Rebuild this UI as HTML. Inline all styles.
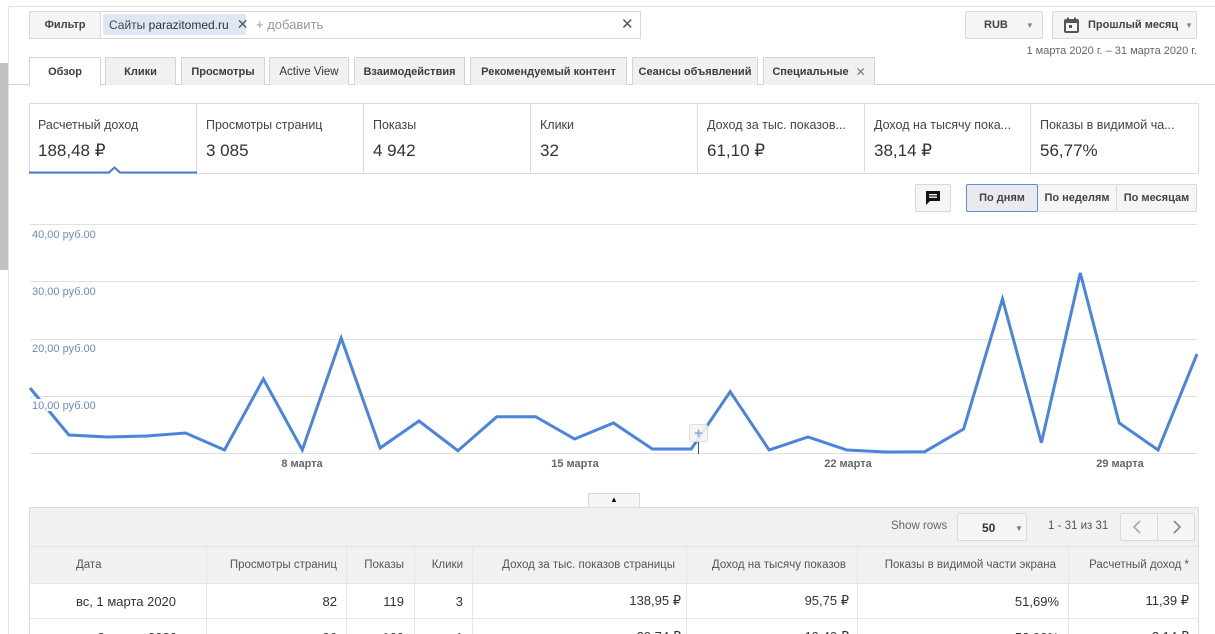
<!DOCTYPE html>
<html><head><meta charset="utf-8">
<style>
*{box-sizing:border-box;margin:0;padding:0}
html,body{width:1215px;height:634px;overflow:hidden;background:#fff;font-family:"Liberation Sans","DejaVu Sans",sans-serif;color:#333}
#wrap{position:relative;width:1215px;height:634px;overflow:hidden}
.a{position:absolute}
.btn{position:absolute;background:#f5f5f5;border:1px solid #d9d9d9;border-radius:2px;font-size:11px;font-weight:bold;color:#444;display:flex;align-items:center;justify-content:center;white-space:nowrap}
.tab{position:absolute;top:57px;height:28px;background:#f1f1f1;border:1px solid #d4d4d4;border-bottom:none;font-size:11px;font-weight:bold;color:#3c3c3c;display:flex;align-items:center;justify-content:center;white-space:nowrap}
.card{position:absolute;top:104px;height:69px;border-right:1px solid #dcdcdc}
.card .l{position:absolute;left:9px;top:14px;font-size:12.5px;color:#444;white-space:nowrap}
.card .v{position:absolute;left:9px;top:37px;font-size:17px;color:#333;white-space:nowrap}
.th{position:absolute;top:547px;height:36px;font-size:11.5px;color:#555;display:flex;align-items:center;white-space:nowrap}
.td{position:absolute;font-size:13px;color:#333;display:flex;align-items:center;white-space:nowrap}
.r{justify-content:flex-end}
.vl{position:absolute;width:1px;background:#e6e6e6}
</style></head><body><div id="wrap">

<!-- frame lines -->
<div class="a" style="left:8px;top:6px;width:1207px;height:1px;background:#e2e2e2"></div>
<div class="a" style="left:8px;top:6px;width:1px;height:628px;background:#e2e2e2"></div>
<div class="a" style="left:0;top:63px;width:8px;height:207px;background:#c1c2c6"></div>

<!-- filter bar -->
<div class="a" style="left:29px;top:11px;width:612px;height:28px;border:1px solid #d9d9d9;background:#fff"></div>
<div class="btn" style="left:29px;top:11px;width:72px;height:28px;">Фильтр</div>
<div class="a" style="left:103px;top:14px;width:143px;height:21px;background:#dfe7f5;border-radius:2px;font-size:12px;color:#444;display:flex;align-items:center;padding-left:6px;white-space:nowrap">Сайты&nbsp;<span style="color:#333">parazitomed.ru</span><span style="margin-left:8px;font-size:14px;color:#555">✕</span></div>
<div class="a" style="left:256px;top:17px;font-size:13px;color:#999">+ добавить</div>
<div class="a" style="left:621px;top:15px;font-size:15px;color:#555">✕</div>

<div class="btn" style="left:965px;top:11px;width:78px;height:28px;justify-content:flex-start;padding-left:18px">RUB<span style="margin-left:18px;font-size:8px;color:#888">▼</span></div>
<div class="btn" style="left:1052px;top:11px;width:145px;height:28px;justify-content:flex-start;padding-left:11px">
<svg width="15" height="16" viewBox="0 0 15 16" style="margin-right:9px"><rect x="1" y="3" width="13" height="12" rx="1" fill="none" stroke="#555" stroke-width="2"/><rect x="1" y="3" width="13" height="3" fill="#555"/><rect x="3" y="0.5" width="2" height="3" fill="#555"/><rect x="10" y="0.5" width="2" height="3" fill="#555"/><rect x="5" y="8" width="3" height="3" fill="#555"/></svg>Прошлый месяц<span style="margin-left:7px;font-size:8px;color:#888">▼</span></div>
<div class="a" style="left:1000px;top:45px;width:197px;text-align:right;font-size:11px;color:#666;white-space:nowrap">1 марта 2020 г. – 31 марта 2020 г.</div>

<!-- tabs -->
<div class="a" style="left:8px;top:84px;width:1207px;height:1px;background:#d4d4d4"></div>
<div class="tab" style="left:29px;width:72px;background:#fff;height:29px">Обзор</div>
<div class="tab" style="left:105px;width:71px">Клики</div>
<div class="tab" style="left:181px;width:84px">Просмотры</div>
<div class="tab" style="left:269px;width:80px;font-weight:normal;color:#333;font-size:11.5px">Active View</div>
<div class="tab" style="left:354px;width:111px">Взаимодействия</div>
<div class="tab" style="left:470px;width:157px">Рекомендуемый контент</div>
<div class="tab" style="left:632px;width:126px">Сеансы объявлений</div>
<div class="tab" style="left:763px;width:112px">Специальные<span style="margin-left:7px;font-weight:normal;color:#777;font-size:12px">✕</span></div>

<!-- metric cards -->
<div class="a" style="left:29px;top:103px;width:1170px;height:71px;border:1px solid #dcdcdc"></div>
<div class="card" style="left:29px;width:168px"><div class="l">Расчетный доход</div><div class="v">188,48 ₽</div></div>
<div class="card" style="left:197px;width:167px"><div class="l">Просмотры страниц</div><div class="v">3 085</div></div>
<div class="card" style="left:364px;width:167px"><div class="l">Показы</div><div class="v">4 942</div></div>
<div class="card" style="left:531px;width:167px"><div class="l">Клики</div><div class="v">32</div></div>
<div class="card" style="left:698px;width:167px"><div class="l">Доход за тыс. показов...</div><div class="v">61,10 ₽</div></div>
<div class="card" style="left:865px;width:166px"><div class="l">Доход на тысячу пока...</div><div class="v">38,14 ₽</div></div>
<div class="card" style="left:1031px;width:167px;border-right:none"><div class="l">Показы в видимой ча...</div><div class="v">56,77%</div></div>
<svg class="a" style="left:29px;top:164px" width="168" height="11"><polyline points="0,8.5 80,8.5 85.5,3.5 91,8.5 168,8.5" fill="none" stroke="#4a7bd0" stroke-width="2"/><polygon points="81,10 85.5,5.5 90,10" fill="#fff"/></svg>

<!-- chart controls -->
<div class="btn" style="left:915px;top:184px;width:36px;height:28px"><svg width="16" height="16" viewBox="0 0 16 16"><path d="M1 1h14v10H5l-4 4z" fill="#111"/><rect x="4" y="4" width="8" height="1.3" fill="#fff"/><rect x="4" y="6.5" width="8" height="1.3" fill="#fff"/></svg></div>
<div class="btn" style="left:966px;top:184px;width:72px;height:28px;background:#e8eaed;border:1px solid #5b8fd6;z-index:2">По дням</div>
<div class="btn" style="left:1037px;top:184px;width:80px;height:28px">По неделям</div>
<div class="btn" style="left:1116px;top:184px;width:81px;height:28px">По месяцам</div>

<!-- chart -->
<svg class="a" style="left:0;top:0" width="1215" height="480">
<g stroke="#e0e0e0" stroke-width="1">
<line x1="30" y1="224.5" x2="1197" y2="224.5"/>
<line x1="30" y1="281.5" x2="1197" y2="281.5"/>
<line x1="30" y1="339.5" x2="1197" y2="339.5"/>
<line x1="30" y1="396.5" x2="1197" y2="396.5"/>
<line x1="30" y1="453.5" x2="1197" y2="453.5"/>
</g>
<polyline fill="none" stroke="#4a84dc" stroke-width="3" stroke-linejoin="miter" points="30,388 68.9,435 107.8,437 146.7,436 185.6,433 224.5,450 263.4,379 302.3,450 341.2,338 380.1,448 419,421 457.9,450.7 496.8,416.7 535.7,416.7 574.6,439 613.5,423 652.4,449 691.3,449 730.2,391.7 769.1,450 808,437 846.9,450 885.8,452 924.7,451.7 963.6,429 1002.5,299 1041.4,442.7 1080.3,273 1119.2,423 1158.1,450 1197,354"/>
<g font-family="Liberation Sans, sans-serif" font-size="11" fill="#6a8cc6">
<rect x="31" y="228" width="66" height="12" fill="#fff"/>
<text x="32" y="238">40,00 руб.00</text>
<text x="32" y="295">30,00 руб.00</text>
<text x="32" y="352">20,00 руб.00</text>
<rect x="31" y="399" width="66" height="12" fill="#fff"/>
<text x="32" y="409">10,00 руб.00</text>
</g>
<g font-family="Liberation Sans, sans-serif" font-size="11" font-weight="bold" fill="#666" text-anchor="middle">
<text x="302" y="467">8 марта</text>
<text x="575" y="467">15 марта</text>
<text x="848" y="467">22 марта</text>
<text x="1120" y="467">29 марта</text>
</g>
<line x1="698.5" y1="442" x2="698.5" y2="454" stroke="#555" stroke-width="1"/>
<rect x="689.5" y="424.5" width="18" height="17" rx="2" fill="#f4f4f4" stroke="#dcdcdc" opacity="0.9"/>
<text x="698.5" y="438" text-anchor="middle" font-family="Liberation Sans, sans-serif" font-size="15" font-weight="bold" fill="#8fa9cf">+</text>
</svg>

<!-- table -->
<div class="a" style="left:588px;top:493px;width:52px;height:16px;background:#f5f5f5;border:1px solid #d9d9d9;border-bottom:none;font-size:8px;color:#111;text-align:center;line-height:12px">▲</div>
<div class="a" style="left:29px;top:507px;width:1170px;height:127px;background:#fff;border:1px solid #dcdcdc;border-bottom:none"></div>
<div class="a" style="left:30px;top:508px;width:1168px;height:75px;background:#f1f1f1"></div>
<div class="a" style="left:30px;top:546px;width:1168px;height:1px;background:#e2e2e2"></div>
<div class="a" style="left:891px;top:520px;font-size:11.5px;color:#666">Show rows</div>
<div class="a" style="left:957px;top:513px;width:70px;height:28px;background:#f5f5f5;border:1px solid #d9d9d9;border-radius:2px;font-size:12px;font-weight:bold;color:#333;padding:7px 0 0 24px">50<span style="position:absolute;left:57px;top:10px;font-size:8px;color:#777">▼</span></div>
<div class="a" style="left:1048px;top:520px;font-size:11.5px;color:#555">1 - 31 из 31</div>
<div class="a" style="left:1120px;top:513px;width:75px;height:28px;background:#f5f5f5;border:1px solid #d9d9d9;border-radius:2px"></div>
<div class="a" style="left:1157px;top:514px;width:1px;height:26px;background:#d9d9d9"></div>
<svg class="a" style="left:1120px;top:513px" width="75" height="28"><polyline points="20,8 14,14 20,20" fill="none" stroke="#aaa" stroke-width="1.6"/><polyline points="54,8 60,14 54,20" fill="none" stroke="#888" stroke-width="1.6"/></svg>

<div class="vl" style="left:206px;top:547px;height:87px"></div>
<div class="vl" style="left:346px;top:547px;height:87px"></div>
<div class="vl" style="left:414px;top:547px;height:87px"></div>
<div class="vl" style="left:472px;top:547px;height:87px"></div>
<div class="vl" style="left:686px;top:547px;height:87px"></div>
<div class="vl" style="left:857px;top:547px;height:87px"></div>
<div class="vl" style="left:1068px;top:547px;height:87px"></div>
<div class="a" style="left:30px;top:583px;width:1168px;height:1px;background:#e6e6e6"></div>
<div class="a" style="left:30px;top:618px;width:1168px;height:1px;background:#e6e6e6"></div>

<div class="th" style="left:76px">Дата</div>
<div class="th r" style="left:206px;width:131px">Просмотры страниц</div>
<div class="th r" style="left:346px;width:58px">Показы</div>
<div class="th r" style="left:414px;width:49px">Клики</div>
<div class="th r" style="left:472px;width:203px">Доход за тыс. показов страницы</div>
<div class="th r" style="left:686px;width:160px">Доход на тысячу показов</div>
<div class="th r" style="left:857px;width:199px">Показы в видимой части экрана</div>
<div class="th r" style="left:1068px;width:121px">Расчетный доход *</div>

<div class="td" style="left:76px;top:584px;height:34px">вс, 1 марта 2020</div>
<div class="td r" style="left:206px;width:131px;top:584px;height:34px">82</div>
<div class="td r" style="left:346px;width:58px;top:584px;height:34px">119</div>
<div class="td r" style="left:414px;width:49px;top:584px;height:34px">3</div>
<div class="td r" style="left:472px;width:209px;top:584px;height:34px">138,95 ₽</div>
<div class="td r" style="left:686px;width:163px;top:584px;height:34px">95,75 ₽</div>
<div class="td r" style="left:857px;width:202px;top:584px;height:34px">51,69%</div>
<div class="td r" style="left:1068px;width:121px;top:584px;height:34px">11,39 ₽</div>

<div class="a" style="left:0;top:619px;width:1215px;height:15px;overflow:hidden">
<div class="td" style="left:76px;top:9px;height:18px">пн, 2 марта 2020</div>
<div class="td r" style="left:206px;width:131px;top:9px;height:18px">96</div>
<div class="td r" style="left:346px;width:58px;top:9px;height:18px">160</div>
<div class="td r" style="left:414px;width:49px;top:9px;height:18px">1</div>
<div class="td r" style="left:472px;width:209px;top:9px;height:18px">20,74 ₽</div>
<div class="td r" style="left:686px;width:163px;top:9px;height:18px">19,40 ₽</div>
<div class="td r" style="left:857px;width:202px;top:9px;height:18px">58,90%</div>
<div class="td r" style="left:1068px;width:121px;top:9px;height:18px">3,14 ₽</div>
</div>

</div></body></html>
